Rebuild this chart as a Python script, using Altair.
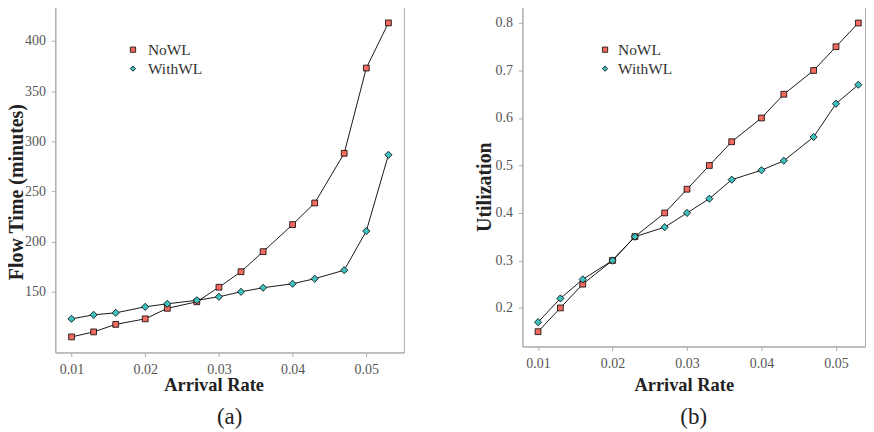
import altair as alt
import pandas as pd

# ---------------- data ----------------
arrival_rate = [0.01, 0.013, 0.016, 0.02, 0.023, 0.027, 0.03, 0.033, 0.036, 0.04, 0.043, 0.047, 0.05, 0.053]
series_names = ["NoWL", "WithWL"]

flow_nowl = [105, 110, 117.5, 123, 133.5, 140, 154.5, 170, 190, 217, 238.5, 288, 373, 418]
flow_withwl = [123, 127, 129, 135, 138, 141.5, 145, 150, 154, 158, 163, 171.5, 210.5, 286.5]

util_nowl = [0.15, 0.20, 0.25, 0.30, 0.35, 0.40, 0.45, 0.50, 0.55, 0.60, 0.65, 0.70, 0.75, 0.80]
util_withwl = [0.17, 0.22, 0.26, 0.30, 0.35, 0.37, 0.40, 0.43, 0.47, 0.49, 0.51, 0.56, 0.63, 0.67]

x_ticks = [0.01, 0.02, 0.03, 0.04, 0.05]
flow_ticks = [150, 200, 250, 300, 350, 400]
util_ticks = [0.2, 0.3, 0.4, 0.5, 0.6, 0.7, 0.8]

FONT = "Liberation Serif"
GREY = "#ababab"
fill_colors = ["#F26B5E", "#3FC0C0"]
shapes = ["square", "diamond"]
marker_sizes = [34, 52]


def long_df(a, b):
    rows = []
    for name, vals in zip(series_names, [a, b]):
        for r, v in zip(arrival_rate, vals):
            rows.append({"rate": r, "value": v, "series": name})
    return pd.DataFrame(rows)


legend_df = pd.DataFrame({"series": series_names})


def panel(df, xdom, ydom, yticks, yfmt, ytitle, caption, w, h,
          x_title_x, x_title_y, y_title_x, y_title_y, leg_x, leg_rows, lab_x):
    fill = alt.Fill("series:N",
                    scale=alt.Scale(domain=series_names, range=fill_colors),
                    legend=None)
    shape = alt.Shape("series:N",
                      scale=alt.Scale(domain=series_names, range=shapes),
                      legend=None)
    X = alt.X("rate:Q",
              scale=alt.Scale(domain=xdom, nice=False, zero=False),
              axis=alt.Axis(values=x_ticks, format=".2f", title="Arrival Rate",
                            grid=False, tickSize=4, labelPadding=17,
                            labelBaseline="alphabetic",
                            titleX=x_title_x, titleY=x_title_y,
                            titleFontSize=18.5,
                            titleBaseline="alphabetic"))
    yscale = alt.Scale(domain=ydom, nice=False, zero=False)
    Y = alt.Y("value:Q", scale=yscale,
              axis=alt.Axis(values=yticks, format=yfmt, title=ytitle,
                            grid=False, tickSize=4, labelPadding=6,
                            titleX=y_title_x, titleY=y_title_y,
                            titleBaseline="alphabetic"))
    Y2 = alt.Y("value:Q", scale=yscale, axis=None)
    base = alt.Chart(df)
    lines = base.mark_line(color="black", strokeWidth=0.9).encode(
        x=X, y=Y, detail="series:N")
    pts = base.mark_point(filled=True, stroke="black", strokeWidth=0.8,
                          opacity=1).encode(
        x=X, y=Y2, fill=fill, shape=shape,
        size=alt.Size("series:N",
                      scale=alt.Scale(domain=series_names, range=marker_sizes),
                      legend=None),
    )
    # legend (drawn inside the plot, top-left)
    LY = alt.Y("series:N",
               scale=alt.Scale(type="point", domain=series_names,
                               range=leg_rows, padding=0),
               axis=None)
    lbase = alt.Chart(legend_df)
    leg_pts = lbase.mark_point(filled=True, stroke="black", strokeWidth=0.8,
                               opacity=1, size=28).encode(
        x=alt.value(leg_x), y=LY, fill=fill, shape=shape)
    leg_txt = lbase.mark_text(align="left", baseline="alphabetic", dy=5.5,
                              font=FONT, fontSize=15.5, color="#333333").encode(
        x=alt.value(lab_x), y=LY, text="series:N")
    return alt.layer(lines, pts, leg_pts, leg_txt).resolve_scale(
        y="independent"
    ).properties(
        width=w, height=h,
        title=alt.TitleParams(caption, orient="bottom", anchor="middle",
                              fontSize=23, font=FONT, fontWeight="normal",
                              color="#222222", offset=12),
    )


left = panel(long_df(flow_nowl, flow_withwl), [0.0078, 0.0551], [89.5, 434],
             flow_ticks, "d", "Flow Time (minutes)", "(a)", 350, 347,
             159, 38.5, -33, 185.5, 78, [43, 62], 93)
right = panel(long_df(util_nowl, util_withwl), [0.0079, 0.0539], [0.1188, 0.834],
              util_ticks, ".1f", "Utilization", "(b)", 344, 341,
              162, 44.7, -32.3, 180.5, 83, [43, 62], 96)

chart = alt.hconcat(left, right, spacing=69).resolve_scale(
    x="independent", y="independent", fill="independent", shape="independent",
    size="independent"
).properties(
    padding={"left": -2.5, "top": -3, "right": 0, "bottom": 0}
).configure_view(
    stroke=GREY, strokeWidth=1
).configure_axis(
    domainColor=GREY, tickColor=GREY, domainWidth=1, tickWidth=1,
    labelFont=FONT, labelFontSize=14, labelColor="#555555",
    titleFont=FONT, titleFontSize=20, titleFontWeight="bold", titleColor="#222222",
)

chart.save("out.html", embed_options={"renderer": "svg", "actions": False})
